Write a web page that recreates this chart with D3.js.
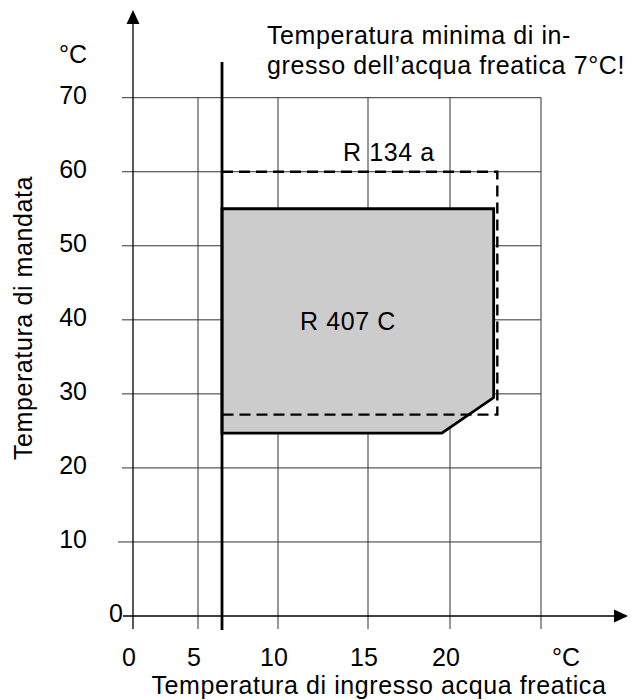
<!DOCTYPE html>
<html>
<head>
<meta charset="utf-8">
<script src="https://cdn.jsdelivr.net/npm/d3@7"></script>
<style>
  html, body { margin: 0; padding: 0; background: #fff; }
  svg { display: block; font-family: "Liberation Sans", Arial, sans-serif; }
  text { fill: #000; }
</style>
</head>
<body>
<svg id="chart" width="631" height="700"></svg>
<script>
// ---- data ----
const xTickValues = [0, 5, 10, 15, 20];
const xTickLabels = ["0", "5", "10", "15", "20"];
const xGridValues = [5, 10, 15, 20, 25];
const xUnitLabel = "°C";
const yTickValues = [0, 10, 20, 30, 40, 50, 60, 70];
const yUnitLabel = "°C";
// minimum inlet line, as drawn in the picture
const minInletLineX = 6.5;
// R 407 C operating envelope (polygon)
const r407cX = [6.5, 22.4, 22.4, 19.5, 6.5];
const r407cY = [55, 55, 29.5, 24.7, 24.7];
// R 134 a operating envelope (dashed)
const r134aX = [6.5, 22.6, 22.6, 6.5];
const r134aY = [60, 60, 27.2, 27.2];
const titleLines = ["Temperatura minima di in-", "gresso dell\u2019acqua freatica 7°C!"];
const xTitle = "Temperatura di ingresso acqua freatica";
const yTitle = "Temperatura di mandata";

// ---- scales ----
const x = d3.scaleLinear().domain([0, 5, 10, 15, 20, 25]).range([133, 198, 278, 368, 450, 541]);
const y = d3.scaleLinear().domain([0, 70]).range([616, 97.7]);

const svg = d3.select("#chart");
const FS = "25px";
const LS = "0.6px";

// R134a label (under grid)
svg.append("text").attr("x", 343).attr("y", 161).attr("font-size", FS)
  .attr("letter-spacing", LS).text("R 134 a");

// grid
const grid = svg.append("g").attr("stroke", "#333").attr("stroke-width", 1);
grid.selectAll("line.h").data(yTickValues.filter(d => d > 0)).join("line")
  .attr("x1", d => d === 10 ? 118 : 122).attr("x2", x(25))
  .attr("y1", d => y(d)).attr("y2", d => y(d));
grid.selectAll("line.v").data(xGridValues).join("line")
  .attr("x1", d => x(d)).attr("x2", d => x(d))
  .attr("y1", y(70)).attr("y2", 629);

// R407C polygon
const pts407 = r407cX.map((v, i) => [x(v), y(r407cY[i])]);
svg.append("path").attr("d", d3.line()(pts407) + "Z")
  .attr("fill", "#cccccc").attr("stroke", "#000").attr("stroke-width", 2.8)
  .attr("stroke-linejoin", "miter");

// R134a dashed envelope
const pts134 = r134aX.map((v, i) => [x(v), y(r134aY[i])]);
svg.append("path").attr("d", d3.line()(pts134))
  .attr("fill", "none").attr("stroke", "#000").attr("stroke-width", 2.4)
  .attr("stroke-dasharray", "11,6");

// minimum inlet temperature thick line
svg.append("line").attr("x1", x(minInletLineX)).attr("x2", x(minInletLineX))
  .attr("y1", 62).attr("y2", 630).attr("stroke", "#000").attr("stroke-width", 2.8);

// axes
svg.append("line").attr("x1", x(0)).attr("x2", x(0)).attr("y1", 629).attr("y2", 20)
  .attr("stroke", "#000").attr("stroke-width", 1.3);
svg.append("path").attr("d", d3.line()([[x(0), 10], [x(0) - 6.5, 24], [x(0) + 6.5, 24]]) + "Z")
  .attr("fill", "#000");
svg.append("line").attr("x1", 123).attr("x2", 618).attr("y1", y(0)).attr("y2", y(0))
  .attr("stroke", "#000").attr("stroke-width", 1.3);
svg.append("path").attr("d", d3.line()([[628, y(0)], [614, y(0) - 6.5], [614, y(0) + 6.5]]) + "Z")
  .attr("fill", "#000");

// y tick labels
svg.selectAll("text.yt").data(yTickValues).join("text").attr("class", "yt")
  .attr("x", d => d === 0 ? 123 : 87).attr("y", d => y(d) + 6)
  .attr("text-anchor", "end").attr("font-size", FS)
  .text(d => String(d));
svg.append("text").attr("x", 87).attr("y", 63).attr("text-anchor", "end")
  .attr("font-size", FS).text(yUnitLabel);

// x tick labels
svg.selectAll("text.xt").data(xTickValues).join("text").attr("class", "xt")
  .attr("x", d => x(d) - 4).attr("y", 666)
  .attr("text-anchor", "middle").attr("font-size", FS)
  .text((d, i) => xTickLabels[i]);
svg.append("text").attr("x", 566).attr("y", 666).attr("text-anchor", "middle")
  .attr("font-size", FS).text(xUnitLabel);

// axis titles
svg.append("text").attr("x", 379).attr("y", 694).attr("text-anchor", "middle")
  .attr("font-size", FS).attr("letter-spacing", LS).text(xTitle);
svg.append("text").attr("transform", "translate(32,318) rotate(-90)")
  .attr("text-anchor", "middle").attr("font-size", FS).attr("letter-spacing", LS).text(yTitle);

// title
svg.selectAll("text.tt").data(titleLines).join("text").attr("class", "tt")
  .attr("x", 267).attr("y", (d, i) => 44 + i * 30)
  .attr("font-size", FS).attr("letter-spacing", LS).text(d => d);

// R407C label
svg.append("text").attr("x", 348).attr("y", 330).attr("text-anchor", "middle")
  .attr("font-size", FS).attr("letter-spacing", LS).text("R 407 C");
</script>
</body>
</html>
